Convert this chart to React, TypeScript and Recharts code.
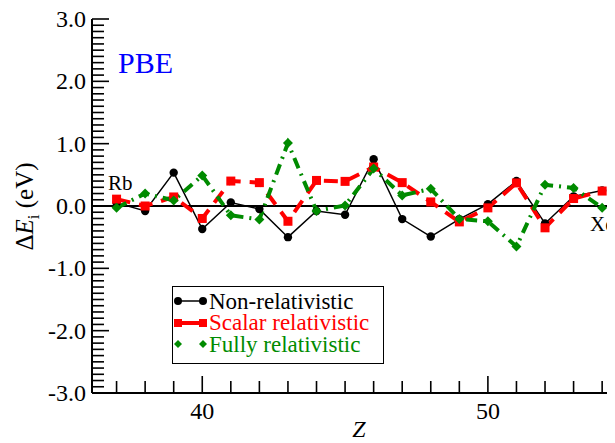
import { LineChart, Line, XAxis, YAxis, ReferenceLine, Legend, Customized } from 'recharts';

// atomic number Z, Rb (37) .. Xe (54)
const zValues = [37, 38, 39, 40, 41, 42, 43, 44, 45, 46, 47, 48, 49, 50, 51, 52, 53, 54];

// error in ionization energy (eV), PBE
const nonRelativistic = [0.05, -0.08, 0.535, -0.37, 0.055, -0.05, -0.5, -0.08, -0.14, 0.75, -0.21, -0.49, -0.21, 0.03, 0.4, -0.28, 0.155, 0.25];
const scalarRelativistic = [0.11, 0.0, 0.145, -0.2, 0.4, 0.375, -0.245, 0.41, 0.395, 0.625, 0.375, 0.065, -0.255, -0.03, 0.37, -0.35, 0.12, 0.24];
const fullyRelativistic = [-0.03, 0.2, 0.09, 0.49, -0.15, -0.215, 1.01, -0.08, 0.01, 0.6, 0.17, 0.275, -0.21, -0.245, -0.65, 0.34, 0.29, -0.03];

const xMajorTicks = [40, 50];
const yMajorTicks = [-3, -2, -1, 0, 1, 2, 3];

// minor ticks every 0.1 eV
const yTicks: number[] = [];
for (let i = -30; i <= 30; i++) yTicks.push(i / 10);

const data = zValues.map((z, i) => ({
  z,
  nonRel: nonRelativistic[i],
  scalar: scalarRelativistic[i],
  fully: fullyRelativistic[i],
}));

const FONT = "'Liberation Serif', 'DejaVu Serif', serif";
const RED = '#ff0000';
const GREEN = '#008b00';

const isMajorY = (v: number) => yMajorTicks.some((m) => Math.abs(m - v) < 1e-6);

const BottomTick = (props: any) => {
  const { x, y, payload } = props;
  const major = xMajorTicks.includes(payload.value);
  return (
    <g>
      <line x1={x} x2={x} y1={y} y2={y - (major ? 17 : 12)} stroke="#000" strokeWidth={1.6} />
      {major && (
        <text x={x} y={y + 26} textAnchor="middle" style={{ fontFamily: FONT, fontSize: 24 }} fill="#000">
          {payload.value}
        </text>
      )}
    </g>
  );
};

const TopTick = (props: any) => {
  const { x, y, payload } = props;
  const major = xMajorTicks.includes(payload.value);
  return <line x1={x} x2={x} y1={y} y2={y + (major ? 17 : 12)} stroke="#000" strokeWidth={1.6} />;
};

const LeftTick = (props: any) => {
  const { x, y, payload } = props;
  const major = isMajorY(payload.value);
  return (
    <g>
      <line x1={x} x2={x + (major ? 17 : 12)} y1={y} y2={y} stroke="#000" strokeWidth={1.6} />
      {major && (
        <text x={x - 6} y={y} dy="0.34em" textAnchor="end" style={{ fontFamily: FONT, fontSize: 24 }} fill="#000">
          {Math.round(payload.value).toFixed(1)}
        </text>
      )}
    </g>
  );
};

const RightTick = (props: any) => {
  const { x, y, payload } = props;
  const major = isMajorY(payload.value);
  return <line x1={x} x2={x - (major ? 17 : 12)} y1={y} y2={y} stroke="#000" strokeWidth={1.6} />;
};

const SquareDot = (props: any) => {
  const { cx, cy, index } = props;
  return <rect key={`sq-${index}`} x={cx - 4.5} y={cy - 4.5} width={9} height={9} fill={RED} />;
};

const DiamondDot = (props: any) => {
  const { cx, cy, index } = props;
  return (
    <polygon
      key={`dm-${index}`}
      points={`${cx},${cy - 5} ${cx + 5},${cy} ${cx},${cy + 5} ${cx - 5},${cy}`}
      fill={GREEN}
    />
  );
};

const legendRows = [
  { label: 'Non-relativistic', color: '#000', kind: 'circle' },
  { label: 'Scalar relativistic', color: RED, kind: 'square' },
  { label: 'Fully relativistic', color: GREEN, kind: 'diamond' },
];

const LegendBox = () => (
  <div style={{ width: 212, height: 78, border: '1.5px solid #000', background: '#fff', boxSizing: 'border-box', position: 'relative' }}>
    {legendRows.map((r, i) => (
      <div key={r.label} style={{ position: 'absolute', left: 0, top: 3 + i * 21.7, height: 22, display: 'flex', alignItems: 'center' }}>
        <svg width={36} height={22} style={{ display: 'block' }}>
          {r.kind === 'circle' && (
            <g>
              <line x1={5} x2={30} y1={11} y2={11} stroke="#000" strokeWidth={1.5} />
              <circle cx={5} cy={11} r={4} fill="#000" />
              <circle cx={30} cy={11} r={4} fill="#000" />
            </g>
          )}
          {r.kind === 'square' && (
            <g>
              <line x1={5} x2={30} y1={11} y2={11} stroke={RED} strokeWidth={4} />
              <rect x={1} y={7} width={8} height={8} fill={RED} />
              <rect x={26} y={7} width={8} height={8} fill={RED} />
            </g>
          )}
          {r.kind === 'diamond' && (
            <g>
              <polygon points="5,7 9,11 5,15 1,11" fill={GREEN} />
              <polygon points="30,7 34,11 30,15 26,11" fill={GREEN} />
            </g>
          )}
        </svg>
        <span style={{ fontFamily: FONT, fontSize: 23, color: r.color, lineHeight: '21px', whiteSpace: 'nowrap' }}>
          {r.label}
        </span>
      </div>
    ))}
  </div>
);

const Annotations = () => (
  <g style={{ fontFamily: FONT }}>
    <text x={110} y={65} fill="#0000ff" style={{ fontFamily: FONT, fontSize: 30 }}>PBE</text>
    <text x={100} y={182} fill="#000" style={{ fontFamily: FONT, fontSize: 21 }}>Rb</text>
    <text x={582} y={223} fill="#000" style={{ fontFamily: FONT, fontSize: 21 }}>Xe</text>
    <text x={351} y={429} textAnchor="middle" fill="#000" style={{ fontFamily: FONT, fontSize: 24, fontStyle: 'italic' }}>Z</text>
    <text x={25} y={198.5} textAnchor="middle" fill="#000" transform="rotate(-90, 25, 198.5)" style={{ fontFamily: FONT, fontSize: 25 }}>
      Δ<tspan fontStyle="italic">E</tspan>
      <tspan dy={6} fontSize={17}>i</tspan>
      <tspan dy={-6}> (eV)</tspan>
    </text>
  </g>
);

export default function App() {
  return (
    <div style={{ width: 607, height: 435, overflowX: 'clip', overflowY: 'visible' }}>
      <style>{'.recharts-surface { overflow: visible; }'}</style>
      <LineChart width={640} height={435} data={data} margin={{ top: 11, right: 21, bottom: 0, left: 0 }}>
        <XAxis
          xAxisId="b"
          dataKey="z"
          type="number"
          domain={[36.14, 54.87]}
          allowDataOverflow
          ticks={zValues}
          interval={0}
          height={50}
          tickSize={0}
          tickMargin={0}
          tickLine={false}
          axisLine={{ stroke: '#000', strokeWidth: 2 }}
          tick={<BottomTick />}
        />
        <XAxis
          xAxisId="t"
          orientation="top"
          dataKey="z"
          type="number"
          domain={[36.14, 54.87]}
          allowDataOverflow
          ticks={zValues}
          interval={0}
          height={0}
          tickSize={0}
          tickMargin={0}
          tickLine={false}
          axisLine={{ stroke: '#000', strokeWidth: 2 }}
          tick={<TopTick />}
        />
        <YAxis
          yAxisId="left"
          type="number"
          domain={[-3, 3]}
          ticks={yTicks}
          interval={0}
          width={84}
          tickSize={0}
          tickMargin={0}
          tickLine={false}
          axisLine={{ stroke: '#000', strokeWidth: 2 }}
          tick={<LeftTick />}
        />
        <YAxis
          yAxisId="right"
          orientation="right"
          type="number"
          domain={[-3, 3]}
          ticks={yTicks}
          interval={0}
          width={0}
          tickSize={0}
          tickMargin={0}
          tickLine={false}
          axisLine={{ stroke: '#000', strokeWidth: 2 }}
          tick={<RightTick />}
        />
        <ReferenceLine xAxisId="b" yAxisId="left" y={0} stroke="#000" strokeWidth={1.8} />
        <Line
          xAxisId="b"
          yAxisId="left"
          dataKey="nonRel"
          stroke="#000"
          strokeWidth={1.5}
          dot={{ r: 4.2, fill: '#000', stroke: '#000', strokeWidth: 0 }}
          activeDot={false}
          isAnimationActive={false}
        />
        <Line
          xAxisId="b"
          yAxisId="left"
          dataKey="scalar"
          stroke={RED}
          strokeWidth={4}
          strokeDasharray="14 9"
          dot={SquareDot}
          activeDot={false}
          isAnimationActive={false}
        />
        <Line
          xAxisId="b"
          yAxisId="left"
          dataKey="fully"
          stroke={GREEN}
          strokeWidth={4}
          strokeDasharray="11 6 2 6"
          dot={DiamondDot}
          activeDot={false}
          isAnimationActive={false}
        />
        <Legend
          layout="vertical"
          align="center"
          verticalAlign="middle"
          content={<LegendBox />}
          wrapperStyle={{ position: 'absolute', left: 164, top: 278, width: 212, height: 78 }}
        />
        <Customized component={Annotations} />
      </LineChart>
    </div>
  );
}
